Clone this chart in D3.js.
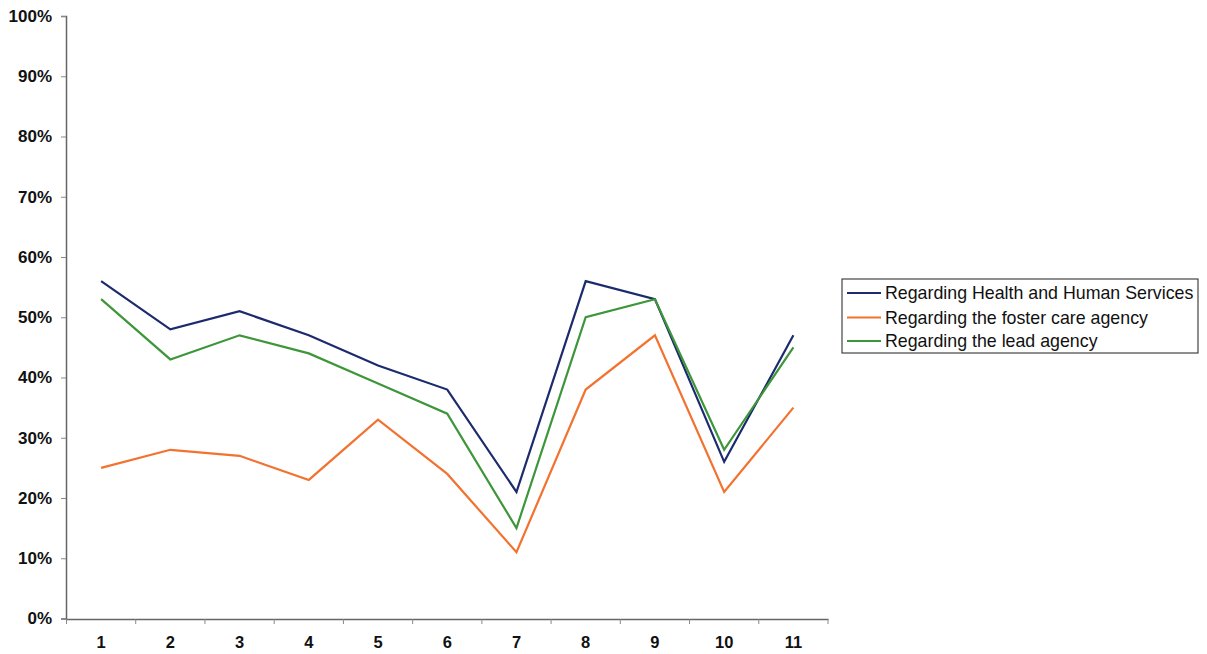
<!DOCTYPE html>
<html><head><meta charset="utf-8">
<script src="https://cdn.jsdelivr.net/npm/d3@7"></script>
<style>body{margin:0;background:#fff;} text{font-family:"Liberation Sans",Arial,sans-serif;}</style>
</head><body><svg id="c" width="1207" height="654"></svg>
<script>
const categories = ["1","2","3","4","5","6","7","8","9","10","11"];
const hhs = [56,48,51,47,42,38,21,56,53,26,47];
const foster = [25,28,27,23,33,24,11,38,47,21,35];
const lead = [53,43,47,44,39,34,15,50,53,28,45];
const yTicks = [0,10,20,30,40,50,60,70,80,90,100];
const seriesNames = ["Regarding Health and Human Services","Regarding the foster care agency","Regarding the lead agency"];
const seriesColors = ["#1c2a6e","#f2722f","#3e963a"];
const seriesData = [hhs, foster, lead];

const svg = d3.select("#c");
const x = d3.scaleBand().domain(categories).range([66.5, 828]);
const y = d3.scaleLinear().domain([0,100]).range([618.5, 16]);

const yAxis = svg.append("g").attr("transform","translate(66,0)")
  .call(d3.axisLeft(y).tickValues(yTicks).tickFormat(d=>d+"%").tickSize(5).tickPadding(9));
yAxis.select(".domain").attr("stroke","#666").attr("stroke-width",1.5);
yAxis.selectAll(".tick line").attr("stroke","#888");
yAxis.selectAll("text").attr("font-size","17px").attr("font-weight","bold").attr("fill","#111");

const xAxis = svg.append("g").attr("transform","translate(0,619)")
  .call(d3.axisBottom(x).tickSize(0).tickPadding(17));
xAxis.select(".domain").attr("stroke","#666").attr("stroke-width",1.5);
xAxis.selectAll("text").attr("font-size","16.5px").attr("font-weight","bold").attr("fill","#111");
const bounds = categories.map(c=>x(c)).concat([x.range()[1]]);
xAxis.selectAll(".bt").data(bounds).enter().append("line")
  .attr("x1",d=>d).attr("x2",d=>d).attr("y1",0).attr("y2",5).attr("stroke","#888");

const line = d3.line().x((d,i)=>x(categories[i])+x.bandwidth()/2).y(d=>y(d));
seriesData.forEach((s,k)=>{
  svg.append("path").datum(s).attr("d",line).attr("fill","none")
    .attr("stroke",seriesColors[k]).attr("stroke-width",2.2).attr("stroke-linejoin","miter");
});

const lg = svg.append("g");
lg.append("rect").attr("x",842).attr("y",279).attr("width",356).attr("height",74)
  .attr("fill","#fff").attr("stroke","#444").attr("stroke-width",1.2);
const rows = [293,317.5,341];
seriesNames.forEach((n,k)=>{
  lg.append("line").attr("x1",847).attr("x2",881).attr("y1",rows[k]).attr("y2",rows[k])
    .attr("stroke",seriesColors[k]).attr("stroke-width",2.2);
  lg.append("text").attr("x",885).attr("y",rows[k]).attr("dy","0.36em")
    .attr("font-size","17.8px").attr("fill","#111").text(n);
});
</script></body></html>
